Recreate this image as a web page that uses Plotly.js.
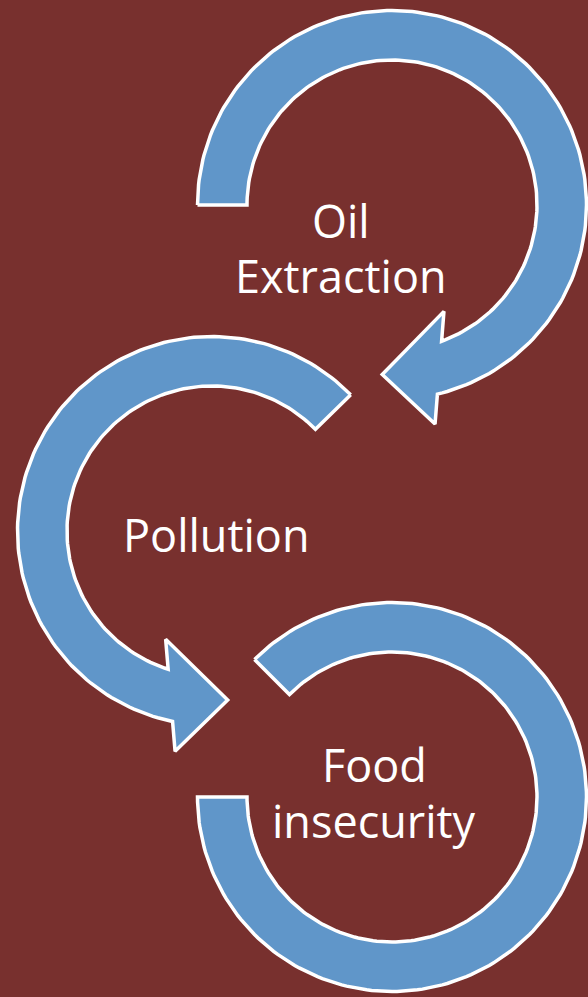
<!DOCTYPE html>
<html>
<head>
<meta charset="utf-8">
<script src="https://cdn.plot.ly/plotly-3.0.1.min.js"></script>
<style>
  html, body { margin: 0; padding: 0; background: #78302E; }
  #chart { width: 588px; height: 997px; }
</style>
</head>
<body>
<div id="chart"></div>
<script>
// ---- content ----
const stageLabels = ["Oil Extraction", "Pollution", "Food insecurity"];
const labelLines = [["Oil", "Extraction"], ["Pollution"], ["Food", "insecurity"]];

// ---- geometry (diagram layout, in page-pixel units of the axes) ----
const arrowGeom = [
  { cx: 392, cy: 205, rIn: 145, rOut: 194.5, start: 180, endIn: 430, endOut: 436.5, head: true, tip: 453.3, barb: 30 },
  { cx: 212, cy: 531, rIn: 145, rOut: 194.5, start: 315.5, endIn: 107.6, endOut: 101.7, head: true, tip: 84.7, barb: 30 },
  { cx: 392, cy: 797, rIn: 145, rOut: 194.5, start: 225, endIn: 540, endOut: 540, head: false }
];
const labelPos = [
  { x: 341, y: [220, 275] },
  { x: 216, y: [534] },
  { x: 374, y: [764, 820] }
];
const colors = { bg: "#78302E", fill: "#6096C9", edge: "#FFFFFF", text: "#FFFFFF" };

function arc(cx, cy, r, a0, a1) {
  const n = Math.max(8, Math.ceil(Math.abs(a1 - a0) / 1.5));
  const xs = [], ys = [];
  for (let i = 0; i <= n; i++) {
    const t = (a0 + (a1 - a0) * i / n) * Math.PI / 180;
    xs.push(cx + r * Math.cos(t));
    ys.push(cy + r * Math.sin(t));
  }
  return [xs, ys];
}
function polar(g, r, a) {
  const t = a * Math.PI / 180;
  return [g.cx + r * Math.cos(t), g.cy + r * Math.sin(t)];
}

const traces = arrowGeom.map((g, k) => {
  let x = [], y = [];
  const [ox, oy] = arc(g.cx, g.cy, g.rOut, g.start, g.endOut);
  x = x.concat(ox); y = y.concat(oy);
  if (g.head) {
    const pIn = polar(g, g.rIn, g.endIn);
    const pOut = polar(g, g.rOut, g.endOut);
    const dx = pOut[0] - pIn[0], dy = pOut[1] - pIn[1];
    const L = Math.hypot(dx, dy);
    const ux = dx / L, uy = dy / L;
    const bOut = [pOut[0] + g.barb * ux, pOut[1] + g.barb * uy];
    const bIn = [pIn[0] - g.barb * ux, pIn[1] - g.barb * uy];
    const tp = polar(g, (g.rIn + g.rOut) / 2, g.tip);
    x.push(bOut[0], tp[0], bIn[0]);
    y.push(bOut[1], tp[1], bIn[1]);
  }
  const [ix, iy] = arc(g.cx, g.cy, g.rIn, g.endIn, g.start);
  x = x.concat(ix); y = y.concat(iy);
  x.push(x[0]); y.push(y[0]);
  return {
    type: "scatter", mode: "lines", x: x, y: y,
    fill: "toself", fillcolor: colors.fill,
    line: { color: colors.edge, width: 3.5, shape: "linear" },
    hoverinfo: "skip", showlegend: false, name: stageLabels[k]
  };
});

const annotations = [];
labelLines.forEach((lines, k) => {
  lines.forEach((ln, j) => {
    annotations.push({
      x: labelPos[k].x, y: labelPos[k].y[j], xref: "x", yref: "y",
      text: ln, showarrow: false, xanchor: "center", yanchor: "middle",
      font: { family: "'Open Sans', Lato, sans-serif", size: 45, color: colors.text }
    });
  });
});

const layout = {
  width: 588, height: 997,
  margin: { l: 0, r: 0, t: 0, b: 0, pad: 0 },
  paper_bgcolor: colors.bg, plot_bgcolor: colors.bg,
  xaxis: { range: [0, 588], visible: false, fixedrange: true },
  yaxis: { range: [997, 0], visible: false, fixedrange: true },
  annotations: annotations,
  showlegend: false
};

Plotly.newPlot("chart", traces, layout, { staticPlot: true, displayModeBar: false });
</script>
</body>
</html>
